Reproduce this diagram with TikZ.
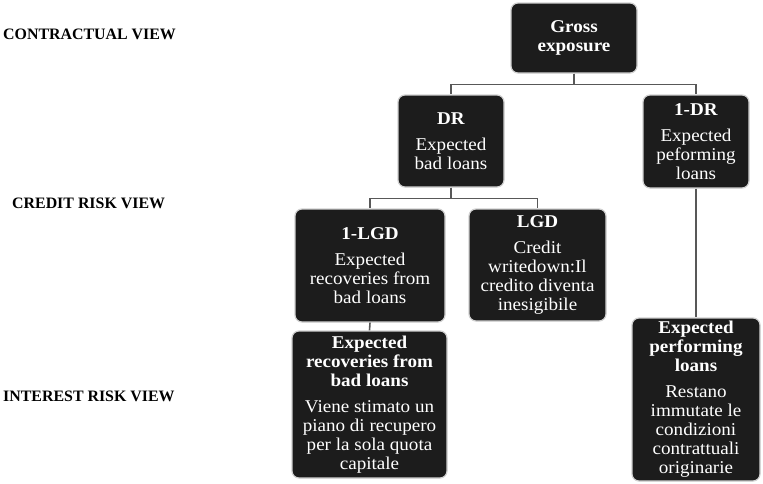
\documentclass[tikz,border=0pt]{standalone}
\usepackage{fontspec}
\setmainfont{Liberation Serif}
\newfontfamily\boxfont[FakeStretch=1.06]{Liberation Serif}
\definecolor{boxfill}{HTML}{1C1C1C}
\definecolor{boxrim}{HTML}{D0D0D0}
\definecolor{linkcol}{HTML}{585858}
\tikzset{
  box/.style={draw=boxrim, line width=1.2pt, fill=boxfill, rounded corners=7pt,
    text=white, align=center, inner sep=2pt,
    font=\boxfont\fontsize{18}{19}\selectfont},
  viewlabel/.style={anchor=west, inner sep=0pt, font=\bfseries\fontsize{15.9}{17}\selectfont},
  link/.style={draw=linkcol, line width=1.6pt}
}
\newcommand{\ttl}[1]{\textbf{#1}\\[7pt]}
\begin{document}
\begin{tikzpicture}[x=1pt,y=-1pt]
\useasboundingbox (0,0) rectangle (763,483);
% view labels
\node[viewlabel] (cv) at (3,34) {CONTRACTUAL VIEW};
\node[viewlabel] (crv) at (12,203) {CREDIT RISK VIEW};
\node[viewlabel] (irv) at (3,396) {INTEREST RISK VIEW};
% boxes
\node[box, minimum width=126pt, minimum height=70pt] (G) at (574,38)
  {\textbf{Gross}\\\textbf{exposure}};
\node[box, minimum width=106pt, minimum height=92pt] (DR) at (451,141)
  {\ttl{DR}Expected\\bad loans};
\node[box, minimum width=106pt, minimum height=93pt] (NDR) at (696,141.5)
  {\ttl{1-DR}Expected\\peforming\\loans};
\node[box, minimum width=150pt, minimum height=113pt] (NLGD) at (370,265.5)
  {\ttl{1-LGD}Expected\\recoveries from\\bad loans};
\node[box, minimum width=137pt, minimum height=112pt] (LGD) at (537.5,265)
  {\ttl{LGD}Credit\\writedown:Il\\credito diventa\\inesigibile};
\node[box, minimum width=155pt, minimum height=147pt] (ER) at (369.5,404.5)
  {\textbf{Expected}\\\textbf{recoveries from}\\\ttl{bad loans}Viene stimato un\\piano di recupero\\per la sola quota\\capitale};
\node[box, minimum width=128pt, minimum height=163pt] (EP) at (696,399.5)
  {\textbf{Expected}\\\textbf{performing}\\\ttl{loans}Restano\\immutate le\\condizioni\\contrattuali\\originarie};
% connectors
\draw[link] (G.south) -- ++(0,11) -| (DR.north);
\draw[link] (G.south) -- ++(0,11) -| (NDR.north);
\draw[link] (DR.south) -- ++(0,11) -| (NLGD.north);
\draw[link] (DR.south) -- ++(0,11) -| (LGD.north);
\draw[link] (NDR.south) -- (EP.north);
\draw[link] (NLGD.south) -- (ER.north);
\end{tikzpicture}
\end{document}
